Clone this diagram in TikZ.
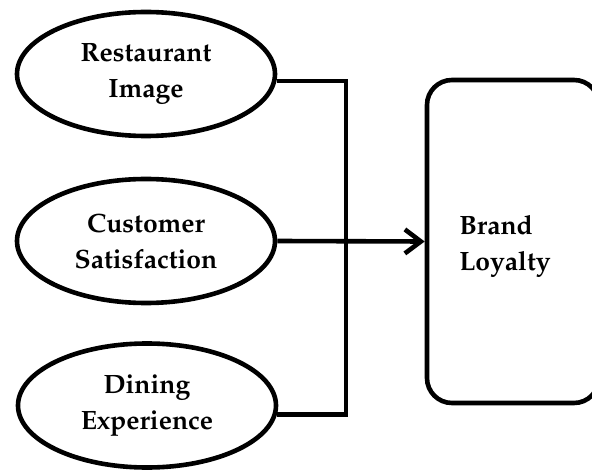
\documentclass[tikz,border=0pt]{standalone}
\usepackage[T1]{fontenc}
\usepackage{mathpazo}
\usetikzlibrary{shapes.geometric,arrows.meta}
\begin{document}
\begin{tikzpicture}[x=1pt,y=1pt,line width=4.6pt,
  lbl/.style={font=\fontsize{26.5}{36}\selectfont\bfseries},
  ell/.style={ellipse,draw,minimum width=258pt,minimum height=124pt,inner sep=0pt,align=center,lbl},
  outbox/.style={draw,rounded corners=25pt,minimum width=172pt,minimum height=323pt,inner sep=0pt},
  conn/.style={line join=miter},
  arr/.style={-{Straight Barb[length=16pt,width=24pt]}}]
\useasboundingbox (0,0) rectangle (592,472);
\node[ell] (ri) at (146,398) {Restaurant\\Image};
\node[ell] (cs) at (146,231) {Customer\\Satisfaction};
\node[ell] (de) at (147,66.5) {Dining\\Experience};
\node[outbox] (bl) at (513,230.5) {};
\node[lbl,align=left,anchor=west,inner sep=0pt] (blt) at (457,226) {Brand\\Loyalty};
\coordinate (jx) at (346,231);
\draw[conn] (ri.-3) -- (ri.-3 -| jx) -- (de.-4 -| jx) -- (de.-4);
\draw[arr] (cs.east) -- (bl.west);
\end{tikzpicture}
\end{document}
